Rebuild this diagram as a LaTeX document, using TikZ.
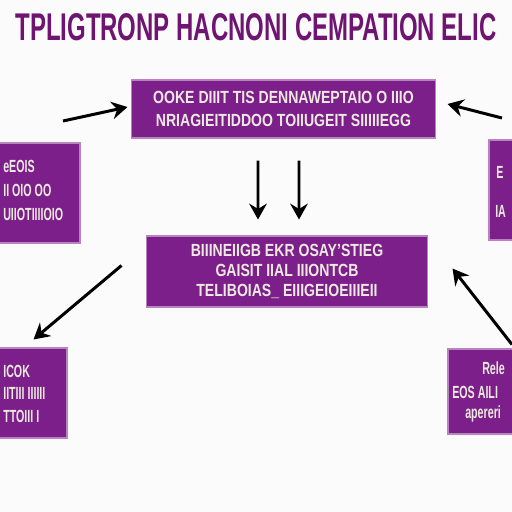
\documentclass[tikz,border=0pt]{standalone}
\usepackage{fontspec}
\setmainfont{Liberation Sans}
\usetikzlibrary{arrows.meta}

\definecolor{boxpurple}{HTML}{7D1F8A}
\definecolor{titlepurple}{HTML}{701472}
\definecolor{boxtext}{HTML}{ECEAE0}

\tikzset{
  flowbox/.style={fill=boxpurple, draw=boxpurple!55, line width=0.6pt, inner sep=0pt},
  boxlabel/.style={text=boxtext, font=\bfseries\fontsize{10}{13}\selectfont, xscale=0.8, align=center},
  sidelabel/.style={boxlabel, xscale=0.76, inner sep=1pt},
  flowarrow/.style={line width=1.7pt, -{Stealth[length=9pt, width=10pt, inset=3pt]}}
}

\begin{document}
\begin{tikzpicture}[x=0.02cm, y=-0.02cm]

\fill[white!97!gray] (0,0) rectangle (512,512);
\clip (0,0) rectangle (512,512);

% title
\node[text=titlepurple, font=\bfseries\fontsize{22}{22}\selectfont, xscale=0.62] (title) at (256,27) {TPLIGTRONP HACNONI CEMPATION ELIC};

% boxes
\node[flowbox, minimum width=6.1cm, minimum height=1.16cm] (top) at (283.5,109) {};
\node[boxlabel] at (top) {OOKE DIIIT TIS DENNAWEPTAIO O IIIO\\ NRIAGIEITIDDOO TOIIUGEIT SIIIIIEGG};

\node[flowbox, minimum width=5.64cm, minimum height=1.42cm] (mid) at (287,271.5) {};
\node[boxlabel, font=\bfseries\fontsize{10}{11.5}\selectfont] at (mid) {BIIINEIIGB EKR OSAY'STIEG\\ GAISIT IIAL IIIONTCB\\ TELIBOIAS\_ EIIIGEIOEIIIEII};

\node[flowbox, minimum width=2cm, minimum height=2cm] (left) at (30,193) {};
\node[sidelabel, anchor=west] at (2,166) {eEOIS};
\node[sidelabel, anchor=west] at (2,190) {II OIO OO};
\node[sidelabel, anchor=west] at (2,214) {UIIOTIIIIOIO};

\node[flowbox, minimum width=1.02cm, minimum height=2cm] (right) at (514.5,190) {};
\node[sidelabel, anchor=west] at (495,172) {E};
\node[sidelabel, anchor=west] at (494,211) {IA};

\node[flowbox, minimum width=1.74cm, minimum height=1.8cm] (botleft) at (23.5,393) {};
\node[sidelabel, anchor=west] at (2,371) {ICOK};
\node[sidelabel, anchor=west] at (2,393) {IITIII IIIIII};
\node[sidelabel, anchor=west] at (2,416) {TTOIII I};

\node[flowbox, minimum width=1.84cm, minimum height=1.7cm] (botright) at (494,391.5) {};
\node[sidelabel, anchor=west] at (481,368) {Rele};
\node[sidelabel, anchor=west] at (451,392) {EOS AILI};
\node[sidelabel, anchor=west] at (464,414) {apereri};

% arrows
\coordinate (inleft) at (63,121);
\coordinate (inright) at (502,118);
\draw[flowarrow] (inleft) -- ([xshift=-0.06cm, yshift=0.04cm]top.west);
\draw[flowarrow] (inright) -- ([xshift=0.22cm, yshift=0.1cm]top.east);

\draw[flowarrow] ([xshift=-0.51cm, yshift=-0.44cm]top.south) -- ([xshift=-0.58cm, yshift=0.32cm]mid.north);
\draw[flowarrow] ([xshift=0.31cm, yshift=-0.44cm]top.south) -- ([xshift=0.24cm, yshift=0.32cm]mid.north);

\draw[flowarrow] ([xshift=-0.48cm, yshift=0.12cm]mid.west) -- ([xshift=0.2cm, yshift=0.16cm]botleft.north);
\draw[flowarrow] ([xshift=0.36cm, yshift=0.08cm]botright.north) -- ([xshift=0.48cm, yshift=0.06cm]mid.east);

\end{tikzpicture}
\end{document}
